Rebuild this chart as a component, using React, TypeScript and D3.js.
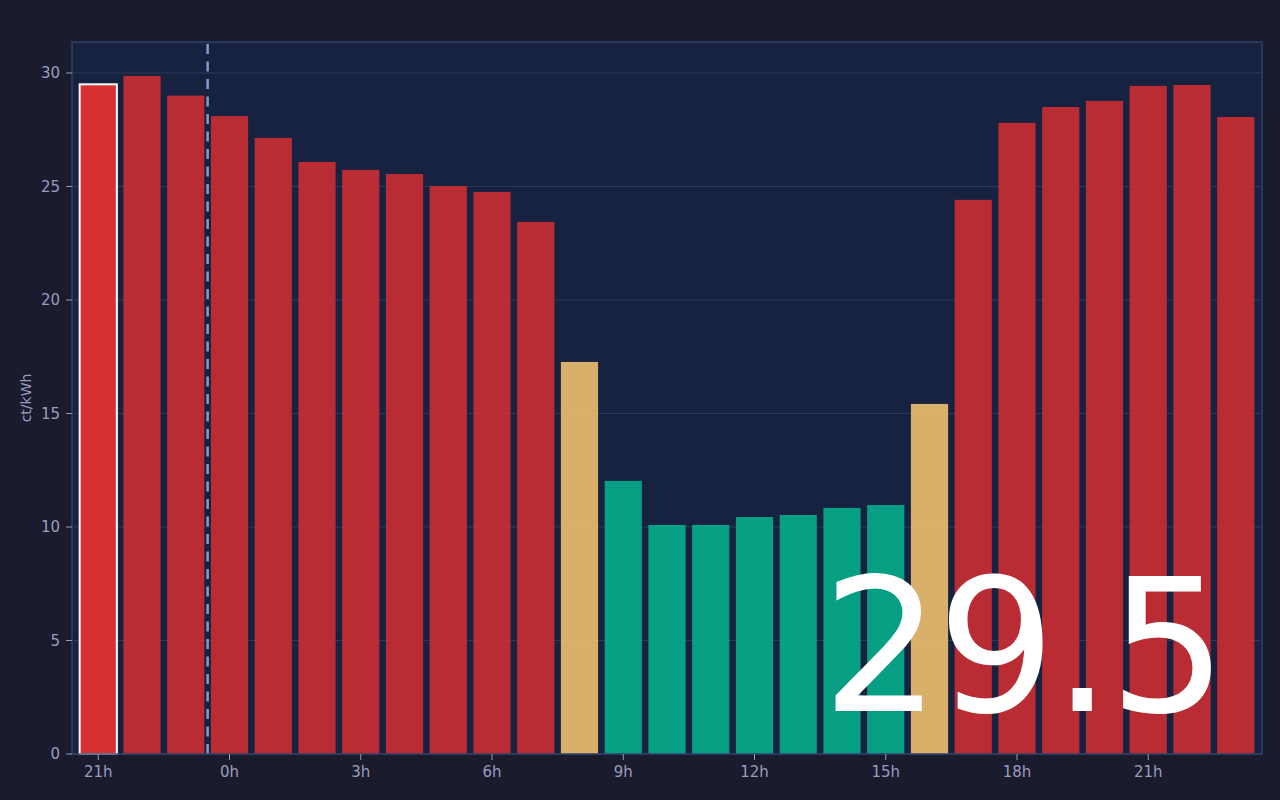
import React from "react";
import * as d3 from "d3";

const hours: string[] = [
  "21h","22h","23h","0h","1h","2h","3h","4h","5h","6h","7h","8h","9h","10h","11h","12h","13h","14h","15h","16h","17h","18h","19h","20h","21h","22h","23h",
];
const prices: number[] = [
  29.5, 29.87, 29.0, 28.1, 27.14, 26.08, 25.73, 25.55, 25.02, 24.76, 23.44, 17.27, 12.03, 10.09, 10.09, 10.44, 10.53, 10.84, 10.97, 15.42, 24.41, 27.8, 28.5, 28.77, 29.43, 29.47, 28.06,
];
const yTicks: number[] = [0, 5, 10, 15, 20, 25, 30];
const xTickLabels: string[] = ["21h", "0h", "3h", "6h", "9h", "12h", "15h", "18h", "21h"];
const currentIndex = 0;
const dayBoundaryIndex = 3;
const currentPrice = "29.5";
const unitLabel = "ct/kWh";

const W = 1280, H = 800;
const M = { left: 72, right: 18, top: 42, bottom: 46 };

function barColor(v: number): string {
  if (v < 15) return "#05ad8c";
  if (v < 20) return "#eec06e";
  return "#cb2d33";
}

export default function App() {
  React.useEffect(() => {
    document.body.style.margin = "0";
    document.body.style.background = "#1b1b2e";
  }, []);
  const x = d3
    .scaleBand<number>()
    .domain(d3.range(prices.length))
    .range([M.left, W - M.right])
    .paddingInner(0.15)
    .paddingOuter(0.175);
  const yMax = (d3.max(prices) as number) * 1.05;
  const y = d3.scaleLinear().domain([0, yMax]).range([H - M.bottom, M.top]);
  const x0 = M.left, x1 = W - M.right, yb = H - M.bottom, yt = M.top;
  const font = "'DejaVu Sans', sans-serif";
  const tickColor = "#9a9cbf";
  const boundaryX = (x(dayBoundaryIndex) as number) - (x.step() - x.bandwidth()) / 2;

  return (
    <svg width={W} height={H} style={{ display: "block" }} fontFamily={font}>
      <rect x={0} y={0} width={W} height={H} fill="#1b1b2e" />
      <rect x={x0} y={yt} width={x1 - x0} height={yb - yt} fill="#172240" />
      {yTicks.map((t) => (
        <line key={"g" + t} x1={x0} x2={x1} y1={y(t)} y2={y(t)} stroke="#2b3a5e" strokeWidth={1} />
      ))}
      {prices.map((v, i) => {
        const cur = i === currentIndex;
        return (
          <rect
            key={i}
            x={x(i)}
            y={y(v)}
            width={x.bandwidth()}
            height={yb - y(v)}
            fill={cur ? "#d93131" : barColor(v)}
            fillOpacity={cur ? 1 : 0.9}
            stroke={cur ? "#ffffff" : "none"}
            strokeWidth={cur ? 2 : 0}
          />
        );
      })}
      <line
        x1={boundaryX}
        x2={boundaryX}
        y1={yt + 2}
        y2={yb}
        stroke="#95a4dc"
        strokeWidth={2.5}
        strokeDasharray="10 7.5"
        strokeOpacity={0.9}
      />
      <rect x={x0} y={yt} width={x1 - x0} height={yb - yt} fill="none" stroke="#2f4068" strokeWidth={1.5} />
      {yTicks.map((t) => (
        <g key={"yt" + t}>
          <line x1={x0 - 6} x2={x0} y1={y(t)} y2={y(t)} stroke={tickColor} />
          <text x={x0 - 12} y={y(t)} dy="0.35em" textAnchor="end" fill={tickColor} fontSize={15}>
            {t}
          </text>
        </g>
      ))}
      {hours.map((h, i) => {
        if (i % 3 !== 0) return null;
        const cx = (x(i) as number) + x.bandwidth() / 2;
        return (
          <g key={"xt" + i}>
            <line x1={cx} x2={cx} y1={yb} y2={yb + 6} stroke={tickColor} />
            <text x={cx} y={yb + 23} textAnchor="middle" fill={tickColor} fontSize={15}>
              {xTickLabels[i / 3]}
            </text>
          </g>
        );
      })}
      <text
        transform={`translate(31, ${(yt + yb) / 2}) rotate(-90)`}
        textAnchor="middle"
        fill={tickColor}
        fontSize={14}
      >
        {unitLabel}
      </text>
      <text x={822} y={711} fill="#ffffff" fontSize={186} letterSpacing={-3}>
        {currentPrice}
      </text>
    </svg>
  );
}
